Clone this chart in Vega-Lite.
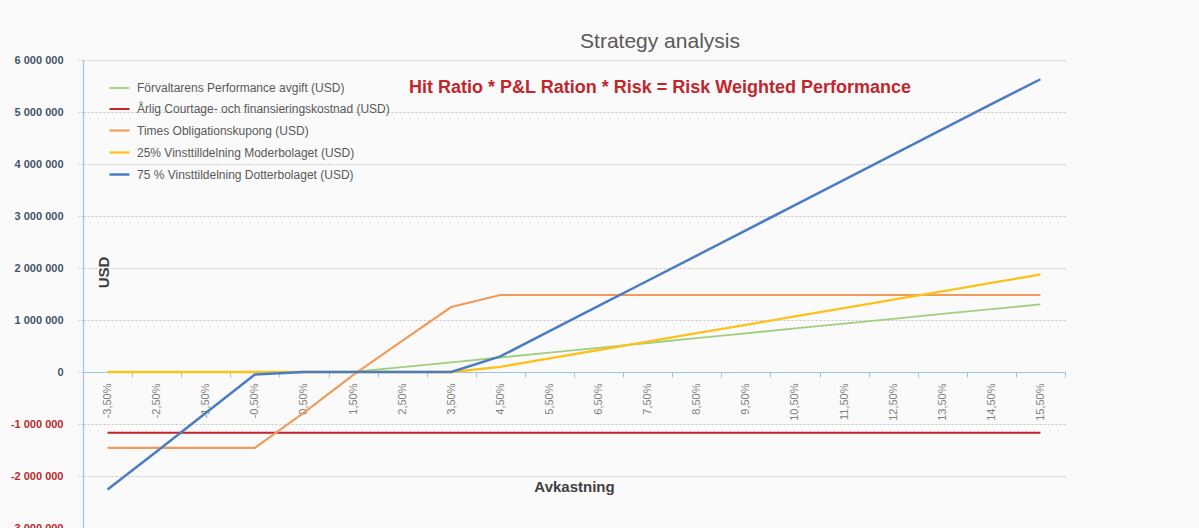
{
  "$schema": "https://vega.github.io/schema/vega-lite/v6.json",
  "autosize": {"type": "none"},
  "padding": {"left": 83, "top": 60, "right": 134, "bottom": 0},
  "width": 982,
  "height": 468,
  "background": "#fafafa",
  "config": {
    "locale": {"number": {"decimal": ",", "thousands": " ", "grouping": [3], "currency": ["", ""], "minus": "-"}},
    "view": {"stroke": null},
    "font": "Liberation Sans"
  },
  "title": {
    "text": "Strategy analysis",
    "subtitle": "Hit Ratio * P&L Ration * Risk = Risk Weighted Performance",
    "anchor": "middle",
    "frame": "group",
    "dx": 86,
    "offset": -43,
    "font": "Liberation Sans",
    "fontSize": 21,
    "fontWeight": "normal",
    "color": "#595959",
    "subtitleFont": "Liberation Sans",
    "subtitleFontSize": 18,
    "subtitleFontWeight": "bold",
    "subtitleColor": "#c0272d",
    "subtitlePadding": 27
  },
  "data": {
    "values": [
      {"avk": "-3,50%", "serie": "Förvaltarens Performance avgift (USD)", "usd": 0},
      {"avk": "-2,50%", "serie": "Förvaltarens Performance avgift (USD)", "usd": 0},
      {"avk": "-1,50%", "serie": "Förvaltarens Performance avgift (USD)", "usd": 0},
      {"avk": "-0,50%", "serie": "Förvaltarens Performance avgift (USD)", "usd": 0},
      {"avk": "0,50%", "serie": "Förvaltarens Performance avgift (USD)", "usd": 0},
      {"avk": "1,50%", "serie": "Förvaltarens Performance avgift (USD)", "usd": 0},
      {"avk": "2,50%", "serie": "Förvaltarens Performance avgift (USD)", "usd": 93000},
      {"avk": "3,50%", "serie": "Förvaltarens Performance avgift (USD)", "usd": 186000},
      {"avk": "4,50%", "serie": "Förvaltarens Performance avgift (USD)", "usd": 279000},
      {"avk": "5,50%", "serie": "Förvaltarens Performance avgift (USD)", "usd": 372000},
      {"avk": "6,50%", "serie": "Förvaltarens Performance avgift (USD)", "usd": 465000},
      {"avk": "7,50%", "serie": "Förvaltarens Performance avgift (USD)", "usd": 558000},
      {"avk": "8,50%", "serie": "Förvaltarens Performance avgift (USD)", "usd": 651000},
      {"avk": "9,50%", "serie": "Förvaltarens Performance avgift (USD)", "usd": 744000},
      {"avk": "10,50%", "serie": "Förvaltarens Performance avgift (USD)", "usd": 837000},
      {"avk": "11,50%", "serie": "Förvaltarens Performance avgift (USD)", "usd": 930000},
      {"avk": "12,50%", "serie": "Förvaltarens Performance avgift (USD)", "usd": 1023000},
      {"avk": "13,50%", "serie": "Förvaltarens Performance avgift (USD)", "usd": 1116000},
      {"avk": "14,50%", "serie": "Förvaltarens Performance avgift (USD)", "usd": 1209000},
      {"avk": "15,50%", "serie": "Förvaltarens Performance avgift (USD)", "usd": 1300000},

      {"avk": "-3,50%", "serie": "Årlig Courtage- och finansieringskostnad (USD)", "usd": -1170000},
      {"avk": "-2,50%", "serie": "Årlig Courtage- och finansieringskostnad (USD)", "usd": -1170000},
      {"avk": "-1,50%", "serie": "Årlig Courtage- och finansieringskostnad (USD)", "usd": -1170000},
      {"avk": "-0,50%", "serie": "Årlig Courtage- och finansieringskostnad (USD)", "usd": -1170000},
      {"avk": "0,50%", "serie": "Årlig Courtage- och finansieringskostnad (USD)", "usd": -1170000},
      {"avk": "1,50%", "serie": "Årlig Courtage- och finansieringskostnad (USD)", "usd": -1170000},
      {"avk": "2,50%", "serie": "Årlig Courtage- och finansieringskostnad (USD)", "usd": -1170000},
      {"avk": "3,50%", "serie": "Årlig Courtage- och finansieringskostnad (USD)", "usd": -1170000},
      {"avk": "4,50%", "serie": "Årlig Courtage- och finansieringskostnad (USD)", "usd": -1170000},
      {"avk": "5,50%", "serie": "Årlig Courtage- och finansieringskostnad (USD)", "usd": -1170000},
      {"avk": "6,50%", "serie": "Årlig Courtage- och finansieringskostnad (USD)", "usd": -1170000},
      {"avk": "7,50%", "serie": "Årlig Courtage- och finansieringskostnad (USD)", "usd": -1170000},
      {"avk": "8,50%", "serie": "Årlig Courtage- och finansieringskostnad (USD)", "usd": -1170000},
      {"avk": "9,50%", "serie": "Årlig Courtage- och finansieringskostnad (USD)", "usd": -1170000},
      {"avk": "10,50%", "serie": "Årlig Courtage- och finansieringskostnad (USD)", "usd": -1170000},
      {"avk": "11,50%", "serie": "Årlig Courtage- och finansieringskostnad (USD)", "usd": -1170000},
      {"avk": "12,50%", "serie": "Årlig Courtage- och finansieringskostnad (USD)", "usd": -1170000},
      {"avk": "13,50%", "serie": "Årlig Courtage- och finansieringskostnad (USD)", "usd": -1170000},
      {"avk": "14,50%", "serie": "Årlig Courtage- och finansieringskostnad (USD)", "usd": -1170000},
      {"avk": "15,50%", "serie": "Årlig Courtage- och finansieringskostnad (USD)", "usd": -1170000},

      {"avk": "-3,50%", "serie": "Times Obligationskupong (USD)", "usd": -1460000},
      {"avk": "-2,50%", "serie": "Times Obligationskupong (USD)", "usd": -1460000},
      {"avk": "-1,50%", "serie": "Times Obligationskupong (USD)", "usd": -1460000},
      {"avk": "-0,50%", "serie": "Times Obligationskupong (USD)", "usd": -1460000},
      {"avk": "0,50%", "serie": "Times Obligationskupong (USD)", "usd": -780000},
      {"avk": "1,50%", "serie": "Times Obligationskupong (USD)", "usd": -60000},
      {"avk": "2,50%", "serie": "Times Obligationskupong (USD)", "usd": 600000},
      {"avk": "3,50%", "serie": "Times Obligationskupong (USD)", "usd": 1250000},
      {"avk": "4,50%", "serie": "Times Obligationskupong (USD)", "usd": 1480000},
      {"avk": "5,50%", "serie": "Times Obligationskupong (USD)", "usd": 1480000},
      {"avk": "6,50%", "serie": "Times Obligationskupong (USD)", "usd": 1480000},
      {"avk": "7,50%", "serie": "Times Obligationskupong (USD)", "usd": 1480000},
      {"avk": "8,50%", "serie": "Times Obligationskupong (USD)", "usd": 1480000},
      {"avk": "9,50%", "serie": "Times Obligationskupong (USD)", "usd": 1480000},
      {"avk": "10,50%", "serie": "Times Obligationskupong (USD)", "usd": 1480000},
      {"avk": "11,50%", "serie": "Times Obligationskupong (USD)", "usd": 1480000},
      {"avk": "12,50%", "serie": "Times Obligationskupong (USD)", "usd": 1480000},
      {"avk": "13,50%", "serie": "Times Obligationskupong (USD)", "usd": 1480000},
      {"avk": "14,50%", "serie": "Times Obligationskupong (USD)", "usd": 1480000},
      {"avk": "15,50%", "serie": "Times Obligationskupong (USD)", "usd": 1480000},

      {"avk": "-3,50%", "serie": "25% Vinsttilldelning Moderbolaget (USD)", "usd": 0},
      {"avk": "-2,50%", "serie": "25% Vinsttilldelning Moderbolaget (USD)", "usd": 0},
      {"avk": "-1,50%", "serie": "25% Vinsttilldelning Moderbolaget (USD)", "usd": 0},
      {"avk": "-0,50%", "serie": "25% Vinsttilldelning Moderbolaget (USD)", "usd": 0},
      {"avk": "0,50%", "serie": "25% Vinsttilldelning Moderbolaget (USD)", "usd": 0},
      {"avk": "1,50%", "serie": "25% Vinsttilldelning Moderbolaget (USD)", "usd": 0},
      {"avk": "2,50%", "serie": "25% Vinsttilldelning Moderbolaget (USD)", "usd": 0},
      {"avk": "3,50%", "serie": "25% Vinsttilldelning Moderbolaget (USD)", "usd": 0},
      {"avk": "4,50%", "serie": "25% Vinsttilldelning Moderbolaget (USD)", "usd": 100000},
      {"avk": "5,50%", "serie": "25% Vinsttilldelning Moderbolaget (USD)", "usd": 262000},
      {"avk": "6,50%", "serie": "25% Vinsttilldelning Moderbolaget (USD)", "usd": 423000},
      {"avk": "7,50%", "serie": "25% Vinsttilldelning Moderbolaget (USD)", "usd": 585000},
      {"avk": "8,50%", "serie": "25% Vinsttilldelning Moderbolaget (USD)", "usd": 746000},
      {"avk": "9,50%", "serie": "25% Vinsttilldelning Moderbolaget (USD)", "usd": 907000},
      {"avk": "10,50%", "serie": "25% Vinsttilldelning Moderbolaget (USD)", "usd": 1068000},
      {"avk": "11,50%", "serie": "25% Vinsttilldelning Moderbolaget (USD)", "usd": 1230000},
      {"avk": "12,50%", "serie": "25% Vinsttilldelning Moderbolaget (USD)", "usd": 1391000},
      {"avk": "13,50%", "serie": "25% Vinsttilldelning Moderbolaget (USD)", "usd": 1552000},
      {"avk": "14,50%", "serie": "25% Vinsttilldelning Moderbolaget (USD)", "usd": 1714000},
      {"avk": "15,50%", "serie": "25% Vinsttilldelning Moderbolaget (USD)", "usd": 1875000},

      {"avk": "-3,50%", "serie": "75 % Vinsttildelning Dotterbolaget (USD)", "usd": -2260000},
      {"avk": "-2,50%", "serie": "75 % Vinsttildelning Dotterbolaget (USD)", "usd": -1530000},
      {"avk": "-1,50%", "serie": "75 % Vinsttildelning Dotterbolaget (USD)", "usd": -790000},
      {"avk": "-0,50%", "serie": "75 % Vinsttildelning Dotterbolaget (USD)", "usd": -50000},
      {"avk": "0,50%", "serie": "75 % Vinsttildelning Dotterbolaget (USD)", "usd": 0},
      {"avk": "1,50%", "serie": "75 % Vinsttildelning Dotterbolaget (USD)", "usd": 0},
      {"avk": "2,50%", "serie": "75 % Vinsttildelning Dotterbolaget (USD)", "usd": 0},
      {"avk": "3,50%", "serie": "75 % Vinsttildelning Dotterbolaget (USD)", "usd": 0},
      {"avk": "4,50%", "serie": "75 % Vinsttildelning Dotterbolaget (USD)", "usd": 300000},
      {"avk": "5,50%", "serie": "75 % Vinsttildelning Dotterbolaget (USD)", "usd": 785000},
      {"avk": "6,50%", "serie": "75 % Vinsttildelning Dotterbolaget (USD)", "usd": 1270000},
      {"avk": "7,50%", "serie": "75 % Vinsttildelning Dotterbolaget (USD)", "usd": 1755000},
      {"avk": "8,50%", "serie": "75 % Vinsttildelning Dotterbolaget (USD)", "usd": 2240000},
      {"avk": "9,50%", "serie": "75 % Vinsttildelning Dotterbolaget (USD)", "usd": 2725000},
      {"avk": "10,50%", "serie": "75 % Vinsttildelning Dotterbolaget (USD)", "usd": 3210000},
      {"avk": "11,50%", "serie": "75 % Vinsttildelning Dotterbolaget (USD)", "usd": 3695000},
      {"avk": "12,50%", "serie": "75 % Vinsttildelning Dotterbolaget (USD)", "usd": 4180000},
      {"avk": "13,50%", "serie": "75 % Vinsttildelning Dotterbolaget (USD)", "usd": 4665000},
      {"avk": "14,50%", "serie": "75 % Vinsttildelning Dotterbolaget (USD)", "usd": 5150000},
      {"avk": "15,50%", "serie": "75 % Vinsttildelning Dotterbolaget (USD)", "usd": 5630000}
    ]
  },
  "mark": {"type": "line", "strokeJoin": "round"},
  "encoding": {
    "x": {
      "field": "avk",
      "type": "ordinal",
      "sort": null,
      "scale": {"type": "band", "paddingInner": 0, "paddingOuter": 0},
      "axis": {
        "title": "Avkastning",
        "titleFont": "Liberation Sans",
        "titleFontSize": 15,
        "titleFontWeight": "bold",
        "titleColor": "#404040",
        "titleY": 107,
        "offset": -156,
        "labelAngle": -90,
        "labelFontSize": 11,
        "labelColor": "#808080",
        "labelPadding": 6,
        "tickBand": "extent",
        "tickSize": 5,
        "tickColor": "#9dc3e6",
        "domainColor": "#9dc3e6",
        "domainWidth": 1.2,
        "grid": false
      }
    },
    "y": {
      "field": "usd",
      "type": "quantitative",
      "scale": {"domain": [-3000000, 6000000], "nice": false, "zero": false},
      "axis": {
        "title": "USD",
        "titleFont": "Liberation Sans",
        "titleFontSize": 15,
        "titleFontWeight": "bold",
        "titleColor": "#404040",
        "titleX": 20,
        "titleY": 212,
        "titleAngle": -90,
        "titleAlign": "center",
        "titleBaseline": "middle",
        "values": [-3000000, -2000000, -1000000, 0, 1000000, 2000000, 3000000, 4000000, 5000000, 6000000],
        "format": ",d",
        "labelFontSize": 11,
        "labelFontWeight": "bold",
        "labelColor": {"condition": {"test": "datum.value < 0", "value": "#c0272d"}, "value": "#44546a"},
        "labelPadding": 15,
        "tickSize": 5,
        "tickColor": "#c0c0c0",
        "tickDash": [2, 2],
        "domainColor": "#9dc3e6",
        "domainWidth": 1.2,
        "grid": true,
        "gridColor": "#c4c4c4",
        "gridDash": [2, 2],
        "gridWidth": 1
      }
    },
    "color": {
      "field": "serie",
      "type": "nominal",
      "scale": {
        "domain": [
          "Förvaltarens Performance avgift (USD)",
          "Årlig Courtage- och finansieringskostnad (USD)",
          "Times Obligationskupong (USD)",
          "25% Vinsttilldelning Moderbolaget (USD)",
          "75 % Vinsttildelning Dotterbolaget (USD)"
        ],
        "range": ["#9fcf7c", "#c8222c", "#f09b5c", "#fcc21c", "#4a7cc4"]
      },
      "legend": {
        "title": null,
        "orient": "none",
        "legendX": 25,
        "legendY": 17,
        "symbolType": "stroke",
        "symbolSize": 400,
        "symbolStrokeWidth": 2.5,
        "labelFont": "Liberation Sans",
        "labelFontSize": 12,
        "labelColor": "#595959",
        "labelOffset": 6,
        "rowPadding": 4,
        "labelLimit": 400
      }
    },
    "strokeWidth": {
      "field": "serie",
      "type": "nominal",
      "scale": {
        "domain": [
          "Förvaltarens Performance avgift (USD)",
          "Årlig Courtage- och finansieringskostnad (USD)",
          "Times Obligationskupong (USD)",
          "25% Vinsttilldelning Moderbolaget (USD)",
          "75 % Vinsttildelning Dotterbolaget (USD)"
        ],
        "range": [1.8, 2.5, 1.8, 3, 3]
      },
      "legend": null
    }
  }
}
